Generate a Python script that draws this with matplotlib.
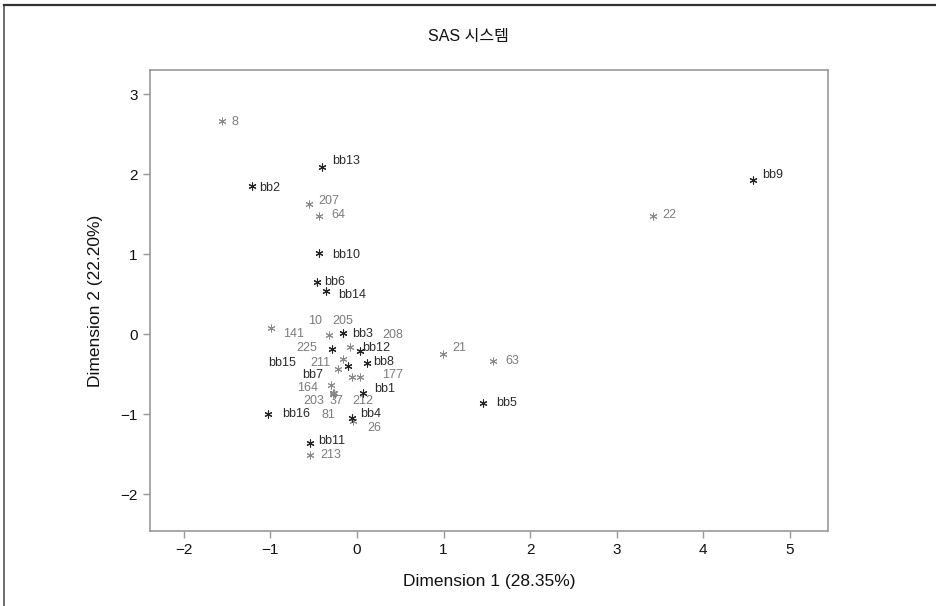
import matplotlib
matplotlib.use("Agg")
import matplotlib.pyplot as plt
from matplotlib.lines import Line2D

plt.rcParams['font.family'] = ['Liberation Sans', 'Noto Sans CJK KR', 'DejaVu Sans']

# --- data ---
num_labels = ['8', '207', '64', '22', '21', '63', '141', '10', '205', '208',
              '225', '211', '177', '212', '164', '37', '203', '81', '26', '213']
num_x = [-1.56, -0.55, -0.44, 3.42, 0.99, 1.57, -0.99, -0.32, -0.16, -0.08,
         -0.16, -0.22, 0.03, -0.06, -0.30, -0.28, -0.27, -0.28, -0.05, -0.54]
num_y = [2.66, 1.63, 1.48, 1.48, -0.25, -0.34, 0.08, -0.01, 0.02, -0.16,
         -0.31, -0.43, -0.54, -0.54, -0.64, -0.74, -0.73, -0.75, -1.09, -1.51]

bb_labels = ['bb13', 'bb2', 'bb9', 'bb10', 'bb6', 'bb14', 'bb3', 'bb15',
             'bb12', 'bb8', 'bb7', 'bb1', 'bb16', 'bb4', 'bb11', 'bb5']
bb_x = [-0.40, -1.21, 4.57, -0.44, -0.46, -0.36, -0.16, -0.29,
        0.03, 0.12, -0.10, 0.07, -1.03, -0.06, -0.54, 1.45]
bb_y = [2.09, 1.85, 1.93, 1.01, 0.65, 0.54, 0.01, -0.18,
        -0.21, -0.36, -0.40, -0.73, -1.00, -1.05, -1.36, -0.86]

title = 'SAS 시스템'
xlabel = 'Dimension 1 (28.35%)'
ylabel = 'Dimension 2 (22.20%)'
xticks = [-2, -1, 0, 1, 2, 3, 4, 5]
yticks = [-2, -1, 0, 1, 2, 3]

# label offsets in pixels (label placement, SAS-style)
num_off = {'8': (10, -1), '207': (9, 3), '64': (13, 1), '22': (9, 1), '21': (10, 6),
           '63': (12, 0), '141': (12, -6), '10': (-21, 14), '205': (-11, 12),
           '208': (32, 12), '225': (-47, 11), '211': (-28, 6), '177': (23, 2),
           '212': (1, -24), '164': (-34, -3), '37': (-3, -8), '203': (-30, -8),
           '81': (-11, -21), '26': (15, -7), '213': (10, 0)}
bb_off = {'bb13': (10, 6), 'bb2': (7, -2), 'bb9': (9, 5), 'bb10': (13, -2),
          'bb6': (7, 0), 'bb14': (12, -4), 'bb3': (9, -1), 'bb15': (-64, -14),
          'bb12': (3, 3), 'bb8': (6, 1), 'bb7': (-46, -9), 'bb1': (11, 4),
          'bb16': (14, 0), 'bb4': (8, 4), 'bb11': (8, 2), 'bb5': (14, 0)}

W, H = 937, 606
fig = plt.figure(figsize=(W / 100, H / 100), dpi=100)
ax = fig.add_axes([150 / W, (H - 531) / H, 678 / W, 461 / H])

ax.set_xlim(-2.39, 5.44)
ax.set_ylim(-2.46, 3.30)

ax.scatter(num_x, num_y, marker=(6, 2, 0), s=26, c='#8a8a8a', linewidths=0.7, zorder=3)
ax.scatter(bb_x, bb_y, marker=(6, 2, 0), s=26, c='#222222', linewidths=0.8, zorder=4)

for lab, x, y in zip(num_labels, num_x, num_y):
    ax.annotate(lab, (x, y), xytext=num_off[lab], textcoords='offset pixels',
                ha='left', va='center', fontsize=9, color='#7c7c7c')
for lab, x, y in zip(bb_labels, bb_x, bb_y):
    ax.annotate(lab, (x, y), xytext=bb_off[lab], textcoords='offset pixels',
                ha='left', va='center', fontsize=9, color='#2a2a2a')

ax.set_xticks(xticks)
ax.set_yticks(yticks)
ax.set_xticklabels([str(t).replace('-', '\u2212') for t in xticks])
ax.set_yticklabels([str(t).replace('-', '\u2212') for t in yticks])
ax.tick_params(direction='out', length=5, width=1, color='#999999',
               labelsize=11, labelcolor='#111111', pad=4)
for sp in ax.spines.values():
    sp.set_color('#999999')
    sp.set_linewidth(1.2)

ax.set_xlabel(xlabel, fontsize=12.5, labelpad=12, color='#111111')
ax.set_ylabel(ylabel, fontsize=12.5, labelpad=12, color='#111111')
fig.text(0.5, 1 - 37 / H, title, ha='center', va='center', fontsize=11.5, color='#111111')

# outer frame
fig.add_artist(Line2D([4 / W, 4 / W], [0, 1 - 5 / H], transform=fig.transFigure,
                      color='#555555', linewidth=1.2))
fig.add_artist(Line2D([4 / W, 1], [1 - 5 / H, 1 - 5 / H], transform=fig.transFigure,
                      color='#333333', linewidth=1.6))

fig.savefig('out.png', dpi=100)
